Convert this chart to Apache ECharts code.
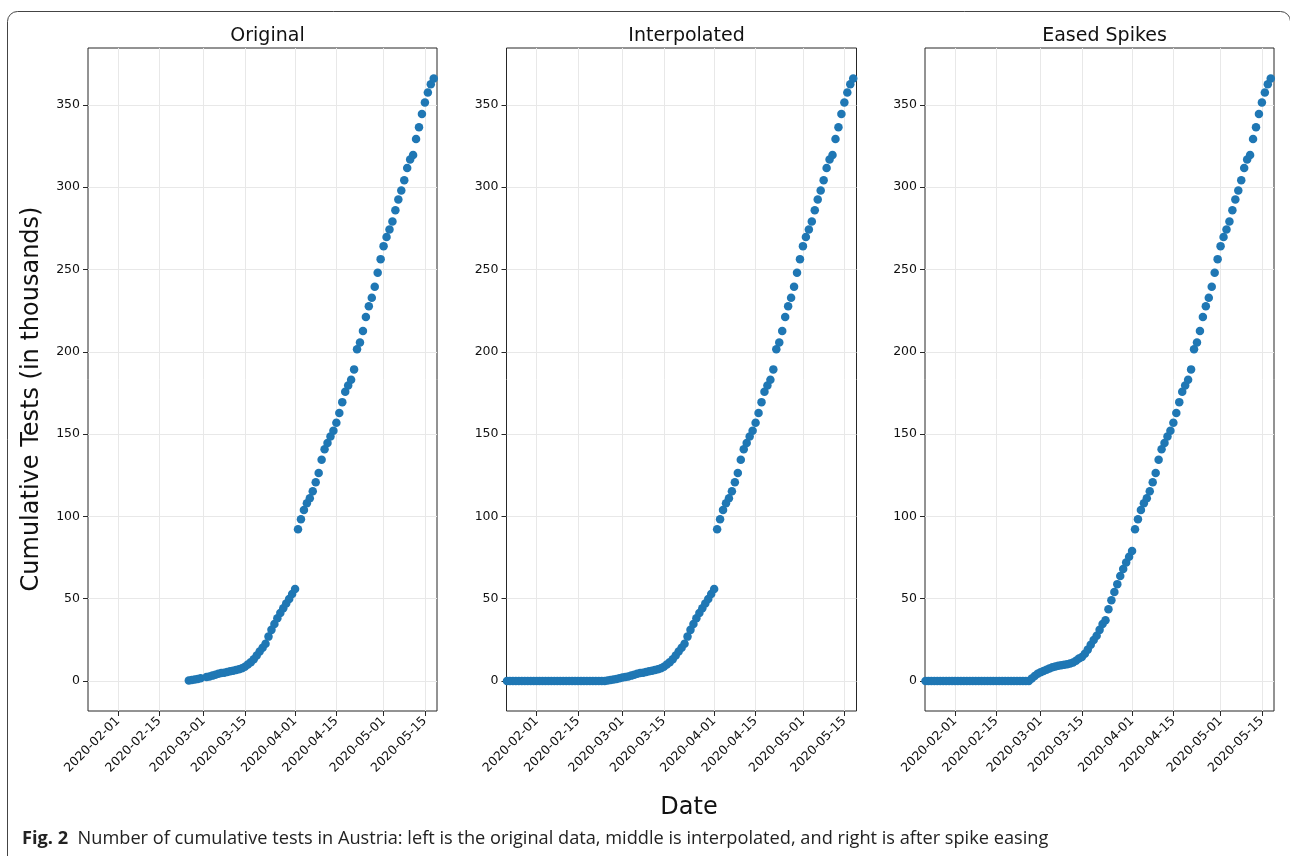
<!DOCTYPE html>
<html>
<head>
<meta charset="utf-8">
<title>Cumulative tests in Austria</title>
<script src="https://cdn.jsdelivr.net/npm/echarts@6/dist/echarts.min.js"></script>
<style>
  html, body { margin: 0; padding: 0; background: #fff; }
  #main { width: 1290px; height: 856px; }
</style>
</head>
<body>
<div id="main"></div>
<script>
    // cumulative tests, thousands, one value per day
    // original data: 2020-02-25 .. 2020-04-01 (2020-03-01 missing)
    var originalStart = '2020-02-25';
    var originalEarly = [0.2, 0.5, 0.8, 1.2, 1.6, null,
        2.4, 2.7, 3.2, 3.7, 4.3, 4.8, 5.0, 5.4, 5.8, 6.2, 6.6, 7.1, 7.7, 8.6,
        9.9, 11.4, 13.2, 15.4, 17.8, 20.2, 22.6, 26.9, 31.0, 34.5, 38.0, 41.2,
        44.1, 47.0, 49.8, 52.8, 55.9];

    // interpolated: 2020-01-22 .. 2020-04-01
    var interpStart = '2020-01-22';
    var interpEarly = [0, 0, 0, 0, 0, 0, 0, 0, 0, 0,
        0, 0, 0, 0, 0, 0, 0, 0, 0, 0, 0, 0, 0, 0, 0, 0, 0, 0, 0, 0, 0, 0, 0, 0,
        0.2, 0.5, 0.8, 1.2, 1.6, 2.0,
        2.4, 2.7, 3.2, 3.7, 4.3, 4.8, 5.0, 5.4, 5.8, 6.2, 6.6, 7.1, 7.7, 8.6,
        9.9, 11.4, 13.2, 15.4, 17.8, 20.2, 22.6, 26.9, 31.0, 34.5, 38.0, 41.2,
        44.1, 47.0, 49.8, 52.8, 55.9];

    // eased spikes: 2020-01-22 .. 2020-04-01
    var easedStart = '2020-01-22';
    var easedEarly = [0, 0, 0, 0, 0, 0, 0, 0, 0, 0,
        0, 0, 0, 0, 0, 0, 0, 0, 0, 0, 0, 0, 0, 0, 0, 0, 0, 0, 0, 0, 0, 0, 0, 0, 0, 0,
        1.5, 3.0, 4.3, 5.2,
        6.0, 6.8, 7.6, 8.3, 8.8, 9.2, 9.5, 9.8, 10.1, 10.5, 11.2, 12.3, 13.6, 14.5,
        16.5, 19.0, 22.0, 24.8, 27.5, 31.0, 34.5, 36.8, 43.5, 49.0, 54.0, 58.8,
        63.8, 68.0, 72.0, 75.5, 79.0];

    // same in all three: 2020-04-02 .. 2020-05-18
    var lateStart = '2020-04-02';
    var lateValues = [92.1, 98.2, 103.8, 107.9, 111.0, 115.2, 120.7, 126.3, 134.4,
        140.7, 144.5, 148.5, 152.0, 156.9, 162.8, 169.4, 175.7, 179.5, 183.0,
        189.3, 201.6, 205.7, 212.6, 221.1, 227.6, 232.8, 239.5, 248.0, 256.3,
        264.2, 269.8, 274.3, 279.2, 286.0, 292.5, 298.0, 304.3, 311.7, 316.8,
        319.6, 329.3, 336.5, 344.5, 351.5, 357.5, 362.6, 366.0];

    var panelTitles = ['Original', 'Interpolated', 'Eased Spikes'];
    var dateTicks = ['2020-02-01', '2020-02-15', '2020-03-01', '2020-03-15',
        '2020-04-01', '2020-04-15', '2020-05-01', '2020-05-15'];
    var valueTicks = [0, 50, 100, 150, 200, 250, 300, 350];

    var DAY = 86400000;

    function toPoints(start, values) {
        var t0 = Date.parse(start + 'T00:00:00Z');
        var out = [];
        for (var i = 0; i < values.length; i++) {
            if (values[i] !== null) out.push([t0 + i * DAY, values[i]]);
        }
        return out;
    }

    function fmtDate(v) {
        var d = new Date(v);
        var m = d.getUTCMonth() + 1, day = d.getUTCDate();
        return d.getUTCFullYear() + '-' + (m < 10 ? '0' : '') + m + '-' + (day < 10 ? '0' : '') + day;
    }

    var seriesData = [
        toPoints(originalStart, originalEarly).concat(toPoints(lateStart, lateValues)),
        toPoints(interpStart, interpEarly).concat(toPoints(lateStart, lateValues)),
        toPoints(easedStart, easedEarly).concat(toPoints(lateStart, lateValues))
    ];

    var feb1 = Date.parse('2020-02-01T00:00:00Z');
    var xMin = feb1 - 10.17 * DAY;
    var xMax = feb1 + 108.1 * DAY;
    var tickTimes = dateTicks.map(function (d) { return Date.parse(d + 'T00:00:00Z'); });

    var lefts = [88, 506.5, 925];
    var widths = [349, 350, 349];
    var font = 'DejaVu Sans';
    var ink = '#262626';

    var grids = [], xAxes = [], yAxes = [], titles = [], series = [];
    for (var k = 0; k < 3; k++) {
        grids.push({
            left: lefts[k], top: 48, width: widths[k], height: 663,
            show: true, borderColor: ink, borderWidth: 1, backgroundColor: 'transparent'
        });
        xAxes.push({
            type: 'value', gridIndex: k, min: xMin, max: xMax,
            axisLine: {show: false, onZero: false},
            axisTick: {show: true, inside: false, length: 5, customValues: tickTimes,
                lineStyle: {color: ink, width: 1}},
            axisLabel: {
                show: true, customValues: tickTimes, rotate: 45, margin: 8,
                fontFamily: font, fontSize: 12.5, color: '#111',
                formatter: fmtDate
            },
            splitLine: {show: true, lineStyle: {color: '#e8e8e8', width: 1}}
        });
        yAxes.push({
            type: 'value', gridIndex: k, min: -18.3, max: 384.6,
            axisLine: {show: false, onZero: false},
            axisTick: {show: true, inside: false, length: 5, customValues: valueTicks,
                lineStyle: {color: ink, width: 1}},
            axisLabel: {show: true, customValues: valueTicks, margin: 8,
                fontFamily: font, fontSize: 12.5, color: '#111'},
            splitLine: {show: true, lineStyle: {color: '#e8e8e8', width: 1}}
        });
        titles.push({
            text: panelTitles[k], left: lefts[k] + widths[k] / 2, top: 22, textAlign: 'center',
            textStyle: {fontFamily: font, fontSize: 19, fontWeight: 'normal', color: '#111'}
        });
        series.push({
            type: 'scatter', xAxisIndex: k, yAxisIndex: k, data: seriesData[k],
            symbolSize: 8.5, itemStyle: {color: '#1f77b4', opacity: 1},
            emphasis: {disabled: true}
        });
    }

    var chart = echarts.init(document.getElementById('main'), null, {renderer: 'canvas'});
    chart.setOption({
        animation: false,
        backgroundColor: '#fff',
        title: titles,
        grid: grids,
        xAxis: xAxes,
        yAxis: yAxes,
        series: series,
        graphic: [
            {
                type: 'rect', left: 5, top: 9, z: -10,
                shape: {width: 1283, height: 880, r: 10},
                style: {fill: 'none', stroke: '#444', lineWidth: 1}
            },
            {
                type: 'text', x: 32, y: 399, rotation: Math.PI / 2,
                style: {text: 'Cumulative Tests (in thousands)', font: '24px "DejaVu Sans"',
                    fill: '#111', align: 'center', verticalAlign: 'middle',
                    textAlign: 'center', textVerticalAlign: 'middle'}
            },
            {
                type: 'text', x: 689, y: 808,
                style: {text: 'Date', font: '24px "DejaVu Sans"', fill: '#111',
                    align: 'center', verticalAlign: 'middle',
                    textAlign: 'center', textVerticalAlign: 'middle'}
            },
            {
                type: 'text', x: 22, y: 839,
                style: {
                    text: '{b|Fig. 2}  Number of cumulative tests in Austria: left is the original data, middle is interpolated, and right is after spike easing',
                    font: '18.2px "Open Sans"', fill: '#222',
                    verticalAlign: 'middle', textVerticalAlign: 'middle',
                    rich: {b: {fontWeight: 'bold', fontSize: 18.2, fontFamily: 'Open Sans', fill: '#222'}}
                }
            }
        ]
    });
</script>
</body>
</html>
